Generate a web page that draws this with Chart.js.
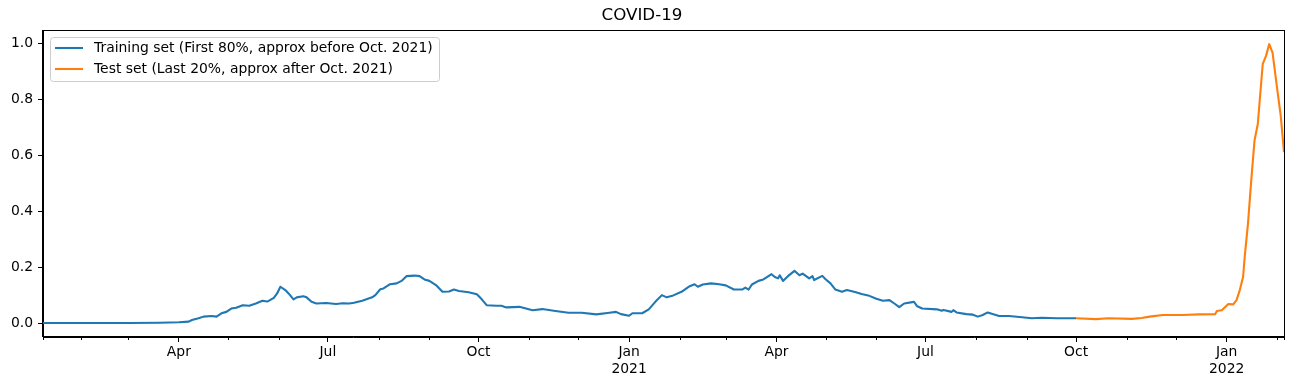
<!DOCTYPE html>
<html><head><meta charset="utf-8">
<script src="https://cdn.jsdelivr.net/npm/chart.js@4"></script>
<style>html,body{margin:0;padding:0;background:#fff;overflow:hidden;}</style>
</head><body>
<canvas id="c" width="1304" height="381"></canvas>
<script>
const trainDates = ["2020-01-09","2020-02-01","2020-03-01","2020-03-20","2020-04-01","2020-04-07","2020-04-09","2020-04-13","2020-04-16","2020-04-21","2020-04-24","2020-04-27","2020-04-30","2020-05-03","2020-05-06","2020-05-10","2020-05-14","2020-05-18","2020-05-22","2020-05-25","2020-05-29","2020-05-31","2020-06-02","2020-06-05","2020-06-07","2020-06-10","2020-06-12","2020-06-16","2020-06-18","2020-06-21","2020-06-24","2020-06-30","2020-07-06","2020-07-10","2020-07-14","2020-07-17","2020-07-22","2020-07-28","2020-07-30","2020-08-02","2020-08-04","2020-08-08","2020-08-12","2020-08-15","2020-08-18","2020-08-23","2020-08-26","2020-08-29","2020-09-01","2020-09-05","2020-09-09","2020-09-13","2020-09-16","2020-09-19","2020-09-25","2020-09-30","2020-10-03","2020-10-06","2020-10-12","2020-10-15","2020-10-18","2020-10-26","2020-10-30","2020-11-03","2020-11-09","2020-11-17","2020-11-25","2020-12-03","2020-12-12","2020-12-20","2020-12-24","2020-12-27","2021-01-01","2021-01-03","2021-01-09","2021-01-13","2021-01-17","2021-01-21","2021-01-24","2021-01-28","2021-02-02","2021-02-07","2021-02-10","2021-02-12","2021-02-15","2021-02-20","2021-02-25","2021-03-01","2021-03-06","2021-03-11","2021-03-13","2021-03-15","2021-03-17","2021-03-21","2021-03-24","2021-03-29","2021-03-31","2021-04-02","2021-04-03","2021-04-05","2021-04-08","2021-04-12","2021-04-15","2021-04-17","2021-04-21","2021-04-23","2021-04-24","2021-04-29","2021-05-01","2021-05-04","2021-05-07","2021-05-11","2021-05-14","2021-05-19","2021-05-23","2021-05-27","2021-06-01","2021-06-05","2021-06-09","2021-06-12","2021-06-15","2021-06-18","2021-06-23","2021-06-24","2021-06-26","2021-06-29","2021-07-08","2021-07-11","2021-07-12","2021-07-17","2021-07-18","2021-07-20","2021-07-26","2021-07-30","2021-08-02","2021-08-05","2021-08-08","2021-08-11","2021-08-15","2021-08-21","2021-08-29","2021-09-04","2021-09-10","2021-09-19","2021-10-01"];
const trainValues = [0.000,0.000,0.000,0.001,0.003,0.005,0.011,0.017,0.023,0.025,0.023,0.035,0.040,0.052,0.055,0.064,0.062,0.070,0.080,0.077,0.090,0.106,0.130,0.118,0.106,0.085,0.092,0.096,0.092,0.076,0.070,0.072,0.068,0.071,0.070,0.073,0.080,0.092,0.100,0.121,0.124,0.139,0.142,0.151,0.168,0.170,0.168,0.156,0.151,0.136,0.112,0.113,0.120,0.115,0.110,0.103,0.085,0.064,0.062,0.062,0.056,0.058,0.052,0.046,0.050,0.043,0.037,0.037,0.031,0.037,0.040,0.032,0.026,0.035,0.035,0.049,0.076,0.100,0.092,0.099,0.112,0.132,0.139,0.130,0.138,0.142,0.139,0.135,0.120,0.120,0.127,0.120,0.138,0.151,0.156,0.175,0.165,0.160,0.171,0.151,0.168,0.187,0.171,0.177,0.160,0.168,0.154,0.169,0.157,0.142,0.120,0.112,0.118,0.111,0.104,0.099,0.087,0.080,0.082,0.070,0.057,0.070,0.075,0.076,0.060,0.052,0.049,0.044,0.047,0.040,0.046,0.038,0.032,0.030,0.023,0.029,0.038,0.032,0.025,0.025,0.021,0.017,0.019,0.017,0.017];
const testDates = ["2021-10-01","2021-10-13","2021-10-21","2021-11-04","2021-11-10","2021-11-15","2021-11-23","2021-12-05","2021-12-15","2021-12-25","2021-12-26","2021-12-29","2022-01-02","2022-01-05","2022-01-07","2022-01-09","2022-01-11","2022-01-12","2022-01-14","2022-01-16","2022-01-18","2022-01-20","2022-01-23","2022-01-25","2022-01-27","2022-01-29","2022-02-01","2022-02-03","2022-02-05"];
const testValues = [0.017,0.014,0.017,0.015,0.018,0.023,0.029,0.029,0.031,0.032,0.043,0.046,0.068,0.067,0.082,0.118,0.165,0.237,0.356,0.511,0.654,0.713,0.927,0.957,0.999,0.969,0.832,0.743,0.612];
const seriesNames = ["Training set (First 80%, approx before Oct. 2021)","Test set (Last 20%, approx after Oct. 2021)"];
const seriesColors = ["#1f77b4","#ff7f0e"];
const yTicks = [0.0,0.2,0.4,0.6,0.8,1.0];
const majorTickDates = ["2020-04-01","2020-07-01","2020-10-01","2021-01-01","2021-04-01","2021-07-01","2021-10-01","2022-01-01"];
const minorTickDates = ["2020-01-09","2020-02-01","2020-03-01","2020-05-01","2020-06-01","2020-08-01","2020-09-01","2020-11-01","2020-12-01","2021-02-01","2021-03-01","2021-05-01","2021-06-01","2021-08-01","2021-09-01","2021-11-01","2021-12-01","2022-02-01","2022-02-05"];
const monthNames = ["Jan","Feb","Mar","Apr","May","Jun","Jul","Aug","Sep","Oct","Nov","Dec"];
const titleText = "COVID-19";

function toDay(s){const p=s.split("-").map(Number);return Date.UTC(p[0],p[1]-1,p[2])/86400000;}
function labelFor(s){const p=s.split("-").map(Number);const m=monthNames[p[1]-1];return p[1]===1?[m,String(p[0])]:m;}

const FONT = "'DejaVu Sans', sans-serif";
const xMin = toDay(trainDates[0]);
const xMax = toDay(testDates[testDates.length-1]);
const majorDays = majorTickDates.map(toDay);

const framePlugin = {
  id:'frame',
  afterDraw(chart){
    const ctx=chart.ctx, a=chart.chartArea, xs=chart.scales.x;
    ctx.save();
    ctx.strokeStyle='#000'; ctx.lineWidth=1;
    ctx.strokeRect(Math.round(a.left)-0.5, Math.round(a.top)+0.5, Math.round(a.right-a.left)+1, Math.round(a.bottom-a.top)-1);
    ctx.beginPath();
    minorTickDates.forEach(d=>{
      const px=Math.round(xs.getPixelForValue(toDay(d)))+0.5;
      ctx.moveTo(px,a.bottom); ctx.lineTo(px,a.bottom+3);
    });
    ctx.stroke();
    const lx=50, ly=37, lw=389, lh=44;
    ctx.fillStyle='rgba(255,255,255,0.8)';
    ctx.strokeStyle='#cccccc';
    ctx.beginPath();
    if(ctx.roundRect){ctx.roundRect(lx+0.5,ly+0.5,lw,lh,3);} else {ctx.rect(lx+0.5,ly+0.5,lw,lh);}
    ctx.fill(); ctx.stroke();
    ctx.font="13.9px "+FONT; ctx.textBaseline='middle'; ctx.textAlign='left';
    seriesNames.forEach((n,i)=>{
      const y=ly+11+i*21;
      ctx.strokeStyle=seriesColors[i]; ctx.lineWidth=2.1;
      ctx.beginPath(); ctx.moveTo(55,y); ctx.lineTo(83,y); ctx.stroke();
      ctx.fillStyle='#000'; ctx.fillText(n,94,y+0.5);
    });
    ctx.restore();
  }
};

new Chart(document.getElementById('c'),{
  type:'line',
  data:{datasets:[
    {label:seriesNames[0],data:trainDates.map((d,i)=>({x:toDay(d),y:trainValues[i]})),borderColor:seriesColors[0],borderWidth:2.1,pointRadius:0,tension:0,fill:false,borderJoinStyle:'round'},
    {label:seriesNames[1],data:testDates.map((d,i)=>({x:toDay(d),y:testValues[i]})),borderColor:seriesColors[1],borderWidth:2.1,pointRadius:0,tension:0,fill:false,borderJoinStyle:'round'}
  ]},
  options:{
    responsive:false, animation:false, devicePixelRatio:1,
    layout:{padding:{left:0,right:20,top:0,bottom:0}},
    plugins:{
      legend:{display:false}, tooltip:{enabled:false},
      title:{display:true,text:titleText,color:'#000',font:{family:FONT,size:16.7,weight:'normal'},padding:{top:6,bottom:4}}
    },
    scales:{
      x:{type:'linear',min:xMin,max:xMax,
        afterBuildTicks:s=>{s.ticks=majorDays.map(v=>({value:v}));},
        afterFit:s=>{s.height=44;},
        ticks:{autoSkip:false,maxRotation:0,minRotation:0,color:'#000',font:{family:FONT,size:13.9},padding:2,
          callback:(v)=>{const i=majorDays.indexOf(v);return i>=0?labelFor(majorTickDates[i]):'';}},
        grid:{drawOnChartArea:false,tickLength:5,tickColor:'#000',tickWidth:1},
        border:{color:'#000',width:1}
      },
      y:{type:'linear',min:-0.05,max:1.0495,
        afterBuildTicks:s=>{s.ticks=yTicks.map(v=>({value:v}));},
        afterFit:s=>{s.width=43;},
        ticks:{color:'#000',font:{family:FONT,size:13.9},padding:5,callback:v=>v.toFixed(1)},
        grid:{drawOnChartArea:false,tickLength:5,tickColor:'#000',tickWidth:1},
        border:{color:'#000',width:1}
      }
    }
  },
  plugins:[framePlugin]
});
</script>
</body></html>
